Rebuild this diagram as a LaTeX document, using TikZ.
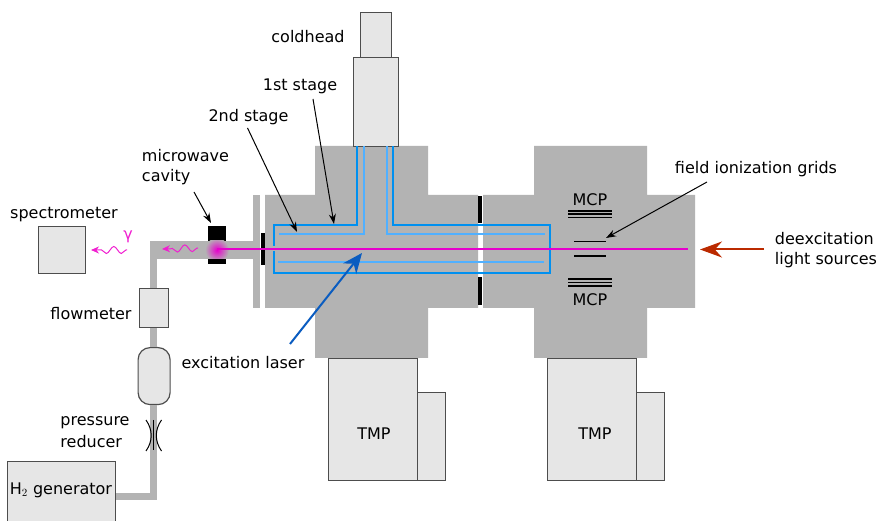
\documentclass[tikz,border=0pt]{standalone}
\usepackage{fontspec}
\setmainfont{DejaVu Sans}
\usetikzlibrary{shapes,arrows.meta,positioning,decorations.pathmorphing}
\definecolor{boxfill}{HTML}{E6E6E6}
\definecolor{boxline}{HTML}{4D4D4D}
\definecolor{chamber}{HTML}{B3B3B3}
\definecolor{beam}{HTML}{E600CC}
\definecolor{wave}{HTML}{F020D0}
\definecolor{shield}{HTML}{0090F0}
\definecolor{inner}{HTML}{50B0FF}
\definecolor{laser}{HTML}{0A5CC0}
\definecolor{light}{HTML}{BB2A00}

\begin{document}
\begin{tikzpicture}[x=1pt,y=-1pt,font=\fontsize{16}{20}\selectfont]
  \tikzstyle{unit} = [draw=boxline,fill=boxfill,line width=1.2pt,rectangle,anchor=north west,inner sep=0pt]
  \tikzstyle{label} = [inner sep=0pt,align=left]
  \tikzstyle{pointer} = [line width=1pt,-{Stealth[length=10pt,width=7pt]}]
  \tikzstyle{tube} = [chamber,line width=7pt]
  \tikzstyle{plate} = [black,line width=1.1pt]
  \tikzstyle{grid} = [black,line width=1.6pt]
  \tikzstyle{photon} = [wave,line width=1pt,-{Stealth[length=8pt,width=7pt]},
    decorate,decoration={snake,amplitude=3.5pt,segment length=15pt,pre length=1pt,post length=8pt}]
  \useasboundingbox (0,0) rectangle (879,521);
  % vacuum chambers
  \fill [chamber] (265,195) -| (315,146) -| (428,195) -| (478,308) -| (428,358) -| (315,308) -| (265,195);
  \fill [chamber] (483,195) -| (534,146) -| (647,195) -| (695,308) -| (647,358) -| (534,308) -| (483,195);
  \fill [chamber] (253,195) rectangle (260,308);
  % cavity sits below the gas tube
  \node (cavity) [fill=black,minimum width=18pt,minimum height=38pt,inner sep=0pt,anchor=north west] at (208,226) {};
  % units
  \node (spectro) [unit,minimum width=47pt,minimum height=47pt] at (38,226) {};
  \node (flow) [unit,minimum width=29pt,minimum height=39pt] at (139,288) {};
  \node (bottle) [unit,rounded corners=12pt,minimum width=32pt,minimum height=57pt] at (137.5,347) {};
  \node (gen) [unit,minimum width=108pt,minimum height=70pt] at (7,461) {};
  \node (headtop) [unit,minimum width=31pt,minimum height=45pt] at (360,12) {};
  \node (headlow) [unit,minimum width=45pt,minimum height=89pt] at (353,57) {};
  \node (pumpa) [unit,minimum width=89pt,minimum height=122pt] at (328,358) {};
  \node (pumpasm) [unit,minimum width=28pt,minimum height=88pt] at (417,392) {};
  \node (pumpb) [unit,minimum width=89pt,minimum height=122pt] at (547,358) {};
  \node (pumpbsm) [unit,minimum width=28pt,minimum height=88pt] at (636,392) {};
  \coordinate (elbow) at (153.5,250);
  \coordinate (flange) at (253,250);
  \coordinate (foot) at (153.5,496);
  % gas line
  \draw [tube,line width=18pt] (flange) -- ([xshift=-3.5pt]elbow);
  \draw [tube] (elbow) -- (flow.north -| elbow);
  \draw [tube] (flow.south -| elbow) -- (bottle.north -| elbow);
  \draw [tube] (bottle.south -| elbow) -- ([yshift=3.5pt]foot);
  \draw [tube] (gen.east |- foot) -- ([xshift=3.5pt]foot);
  % reducer
  \node (reduce) [inner sep=0pt,minimum width=0pt,minimum height=30pt] at (153.5,435) {};
  \draw [line width=1.2pt] (reduce.north) -- (reduce.south);
  \draw [line width=1pt] (146,420) to[bend left=35] (146,451);
  \draw [line width=1pt] (161.5,420) to[bend right=35] (161.5,451);
  % shields
  \draw [shield,line width=1.2pt] (357,146) |- (274,225) -- (274,246);
  \draw [shield,line width=1.2pt] (274,251) |- (550,273) -- (550,225) -| (393,146);
  \draw [inner,line width=1.2pt] (364,146) |- (279,234);
  \draw [inner,line width=1.2pt] (387,146) |- (545,234);
  \draw [inner,line width=1.2pt] (278,262) -- (544,262);
  % apertures
  \fill (478,196) rectangle (482,223);
  \fill (478,277) rectangle (482,305);
  \fill (261,233) rectangle (264.7,265);
  % detectors
  \foreach \y in {211,214,217.5,279,282.5,286} {
    \draw [plate] (568,\y) -- (612,\y);
  }
  \coordinate (gridtop) at (606,238);
  \draw [grid] (574.3,241.7) -- (606,241.7);
  \draw [grid] (574.3,256) -- (606,256);
  % excitation beam
  \begin{scope}
    \clip (205,241) rectangle (229,259);
    \shade [inner color=beam,outer color=chamber] (217,250) circle (12pt);
  \end{scope}
  \coordinate (beamend) at (688,249);
  \draw [beam,line width=1.5pt] (217,249) -- (beamend);
  \coordinate (wavea) at (198,248);
  \coordinate (waveb) at (162,249);
  \coordinate (wavec) at (127,250);
  \coordinate (waved) at (91,250);
  \draw [photon] (wavea) -- (waveb);
  \draw [photon] (wavec) -- (waved);
  % labels
  \node (coldlab) [label] at (308,37) {coldhead};
  \node (firstlab) [label] at (300,86.5) {1st stage};
  \node (secondlab) [label] at (248.5,117) {2nd stage};
  \node (mwlab) [label] at (185.5,167) {microwave\\cavity};
  \node (speclab) [label] at (64,214.5) {spectrometer};
  \node (gamma) [label,wave] at (128,237) {γ};
  \node (flowlab) [label] at (91,313.5) {flowmeter};
  \node (redlab) [label] at (95,432.5) {pressure\\[2pt]reducer};
  \node (genlab) [label] at (61,490) {H$_2$ generator};
  \node (exclab) [label] at (243,362.5) {excitation laser};
  \node (fieldlab) [label] at (756,169.5) {field ionization grids};
  \node (deexlab) [label] at (826,250) {deexcitation\\light sources};
  \node (mcptop) [label] at (590,200) {MCP};
  \node (mcpbot) [label] at (590,300) {MCP};
  \node (tmpa) [label] at (374,433.5) {TMP};
  \node (tmpb) [label] at (595,433.5) {TMP};
  % pointers
  \coordinate (firstend) at (334,224);
  \coordinate (secondend) at (297,232);
  \coordinate (mwend) at (211,223);
  \coordinate (laserend) at (362,253);
  \coordinate (lightend) at (700,249.5);
  \draw [pointer] (313,99) -- (firstend);
  \draw [pointer] (secondlab.south) ++(-1,3) -- (secondend);
  \draw [pointer] (194,192) -- (mwend);
  \draw [pointer] (707,182) -- (gridtop);
  \draw [laser,line width=2pt,-{Stealth[length=20pt,width=17pt]}] (290,344) -- (laserend);
  \draw [light,line width=2pt,-{Stealth[length=22pt,width=16pt]}] (764,249.5) -- (lightend);
\end{tikzpicture}
\end{document}
